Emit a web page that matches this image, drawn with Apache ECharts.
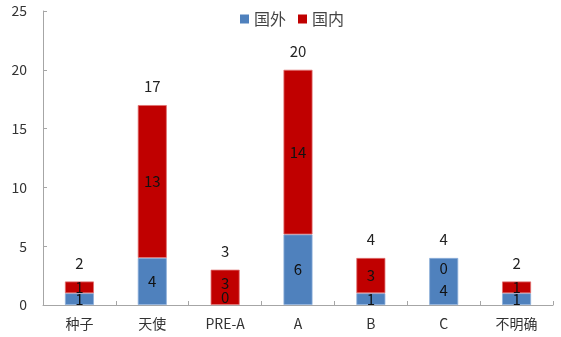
<!DOCTYPE html>
<html>
<head>
<meta charset="utf-8">
<script src="https://cdn.jsdelivr.net/npm/echarts@6/dist/echarts.min.js"></script>
<style>
  html, body { margin: 0; padding: 0; background: #fff; }
  #chart { width: 561px; height: 337px; }
</style>
</head>
<body>
<div id="chart"></div>
<script>
// Investment rounds and deal counts, split by foreign / domestic
var categories = ['种子', '天使', 'PRE-A', 'A', 'B', 'C', '不明确'];
var foreignCounts = [1, 4, 0, 6, 1, 4, 1];
var domesticCounts = [1, 13, 3, 14, 3, 0, 1];
var yTicks = [0, 5, 10, 15, 20, 25];

var totals = categories.map(function (_, i) { return foreignCounts[i] + domesticCounts[i]; });

var FONT = '"Noto Sans CJK SC", "Noto Sans", sans-serif';

// When one part of a stack is zero, spread the two inside labels apart so both stay readable
function labelShift(i, isForeign) {
  if (foreignCounts[i] === 0) return isForeign ? [0, -8] : [0, -4];
  if (domesticCounts[i] === 0) return isForeign ? [0, 9] : [0, 10];
  return [0, 0];
}

function buildData(values, isForeign) {
  return values.map(function (v, i) {
    var item = { value: v, label: { offset: labelShift(i, isForeign) } };
    if (v === 0) item.itemStyle = { borderWidth: 0 };
    return item;
  });
}

var insideLabel = {
  show: true,
  position: 'inside',
  color: '#111',
  fontSize: 15,
  fontFamily: FONT
};

var chart = echarts.init(document.getElementById('chart'), null, { renderer: 'canvas' });
chart.setOption({
  animation: false,
  backgroundColor: '#fff',
  legend: {
    top: 6,
    left: 235,
    icon: 'rect',
    itemWidth: 9,
    itemHeight: 9,
    itemGap: 12,
    itemStyle: { borderWidth: 0 },
    data: ['国外', '国内'],
    textStyle: { fontSize: 16, color: '#444', fontFamily: FONT }
  },
  grid: { left: 43, right: 8, top: 11, bottom: 32 },
  xAxis: {
    type: 'category',
    data: categories,
    boundaryGap: true,
    axisLine: { lineStyle: { color: '#a6a6a6', width: 1 } },
    axisTick: { show: true, inside: true, length: 4, lineStyle: { color: '#a6a6a6' } },
    axisLabel: { fontSize: 14, color: '#333', fontFamily: FONT, margin: 12 }
  },
  yAxis: {
    type: 'value',
    min: yTicks[0],
    max: yTicks[yTicks.length - 1],
    interval: yTicks[1] - yTicks[0],
    axisLine: { show: true, lineStyle: { color: '#a6a6a6', width: 1 } },
    axisTick: { show: true, inside: true, length: 4, lineStyle: { color: '#a6a6a6' } },
    splitLine: { show: false },
    axisLabel: { fontSize: 14, color: '#333', fontFamily: FONT, margin: 16 }
  },
  series: [
    {
      name: '国外',
      type: 'bar',
      stack: 'total',
      barWidth: 29,
      itemStyle: { color: '#4F81BD', borderColor: '#8eb0db', borderWidth: 0.8 },
      label: insideLabel,
      data: buildData(foreignCounts, true)
    },
    {
      name: '国内',
      type: 'bar',
      stack: 'total',
      barWidth: 29,
      itemStyle: { color: '#C00000', borderColor: '#e07070', borderWidth: 0.8 },
      label: insideLabel,
      data: buildData(domesticCounts, false)
    },
    {
      // zero-height cap carrying the stack total above each bar
      name: '合计',
      type: 'bar',
      stack: 'total',
      barWidth: 29,
      silent: true,
      itemStyle: { color: 'transparent', borderWidth: 0 },
      label: {
        show: true,
        position: 'top',
        distance: 11,
        color: '#222',
        fontSize: 15,
        fontFamily: FONT,
        formatter: function (p) { return totals[p.dataIndex]; }
      },
      data: totals.map(function () { return 0; })
    }
  ]
});
</script>
</body>
</html>
